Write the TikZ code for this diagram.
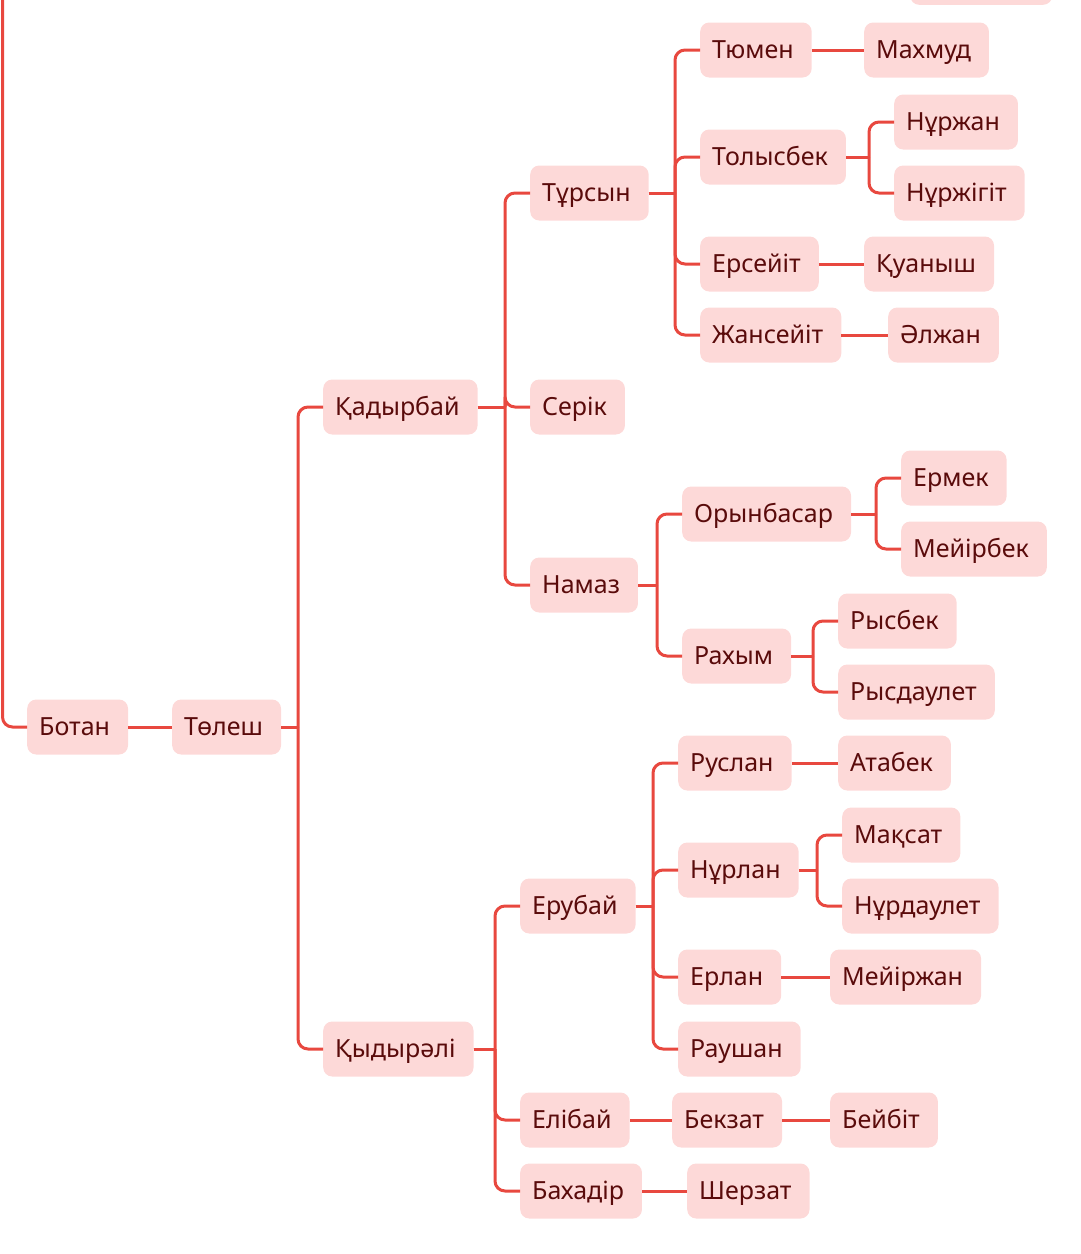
\documentclass[tikz,border=0pt]{standalone}
\usepackage{fontspec}
\setmainfont{Noto Sans}
\usetikzlibrary{calc}
\definecolor{linkred}{HTML}{E8483F}
\definecolor{boxpink}{HTML}{FDD9D8}
\definecolor{namered}{HTML}{5A0B0B}
\tikzset{
  person/.style={
    anchor=west,
    fill=boxpink,
    text=namered,
    rounded corners=9pt,
    minimum height=55pt,
    inner xsep=12pt,
    inner ysep=0pt,
    text height=18.5pt,
    text depth=1pt,
    font=\fontsize{25}{29}\selectfont,
    execute at end node={\hspace*{6pt}}
  },
  link/.style={
    draw=linkred,
    line width=3pt
  },
  elbow/.style={
    link,
    rounded corners=10pt
  }
}

\begin{document}
\begin{tikzpicture}[x=1pt, y=-1pt]
  \useasboundingbox (0,0) rectangle (1080,1254);

  % root line coming from above
  \coordinate (upper) at (2.5,-20);
  \node[person, anchor=south west, minimum width=142pt] (hidden) at (910,5) {};

  \node[person] (botan) at (27,727) {Ботан};
  \node[person] (tolesh) at (172,727) {Төлеш};
  \node[person] (kadyr) at (323,407) {Қадырбай};
  \node[person] (kydyr) at (323,1049) {Қыдырәлі};

  % Kadyrbai branch
  \node[person] (tursyn) at (530,193) {Тұрсын};
  \node[person] (serik) at (530,407) {Серік};
  \node[person] (namaz) at (530,585) {Намаз};
  \node[person] (tyumen) at (700,50) {Тюмен};
  \node[person] (tolysbek) at (700,157) {Толысбек};
  \node[person] (erseyit) at (700,264) {Ерсейіт};
  \node[person] (zhanseyit) at (700,335) {Жансейіт};
  \node[person] (makhmud) at (864,50) {Махмуд};
  \node[person] (nurzhan) at (894,122) {Нұржан};
  \node[person] (nurzhigit) at (894,193) {Нұржігіт};
  \node[person] (kuanysh) at (864,264) {Қуаныш};
  \node[person] (alzhan) at (888,335) {Әлжан};
  \node[person] (orynbasar) at (682,514) {Орынбасар};
  \node[person] (rakhym) at (682,656) {Рахым};
  \node[person] (ermek) at (901,478) {Ермек};
  \node[person] (meyirbek) at (901,549) {Мейірбек};
  \node[person] (rysbek) at (838,621) {Рысбек};
  \node[person] (rysdaulet) at (838,692) {Рысдаулет};

  % Kydyrali branch
  \node[person] (erubay) at (520,906) {Ерубай};
  \node[person] (elibay) at (520,1120) {Елібай};
  \node[person] (bakhadir) at (520,1191) {Бахадір};
  \node[person] (ruslan) at (678,763) {Руслан};
  \node[person] (nurlan) at (678,870) {Нұрлан};
  \node[person] (erlan) at (678,977) {Ерлан};
  \node[person] (raushan) at (678,1049) {Раушан};
  \node[person] (atabek) at (838,763) {Атабек};
  \node[person] (maksat) at (842,835) {Мақсат};
  \node[person] (nurdaulet) at (842,906) {Нұрдаулет};
  \node[person] (meyirzhan) at (830,977) {Мейіржан};
  \node[person] (bekzat) at (672,1120) {Бекзат};
  \node[person] (beybit) at (830,1120) {Бейбіт};
  \node[person] (sherzat) at (687,1191) {Шерзат};

  \draw[elbow] (upper) |- (botan.west);
  % one child: straight line
  \foreach \p/\c in {botan/tolesh, tyumen/makhmud, erseyit/kuanysh,
      zhanseyit/alzhan, ruslan/atabek, erlan/meyirzhan,
      elibay/bekzat, bekzat/beybit, bakhadir/sherzat}
    \draw[link] (\p.east) -- (\c.west);
  % several children: bus 25pt before the child
  \foreach \p/\c in {tolesh/kadyr, tolesh/kydyr,
      kadyr/tursyn, kadyr/serik, kadyr/namaz,
      tursyn/tyumen, tursyn/tolysbek, tursyn/erseyit, tursyn/zhanseyit,
      tolysbek/nurzhan, tolysbek/nurzhigit,
      namaz/orynbasar, namaz/rakhym,
      orynbasar/ermek, orynbasar/meyirbek, rakhym/rysbek, rakhym/rysdaulet,
      kydyr/erubay, kydyr/elibay, kydyr/bakhadir,
      erubay/ruslan, erubay/nurlan, erubay/erlan, erubay/raushan,
      nurlan/maksat, nurlan/nurdaulet} {
    \coordinate (bus) at ($(\c.west |- \p.east)+(-25pt,0)$);
    \draw[link] (\p.east) -- (bus);
    \draw[elbow] (bus) |- (\c.west);
  }
\end{tikzpicture}
\end{document}
